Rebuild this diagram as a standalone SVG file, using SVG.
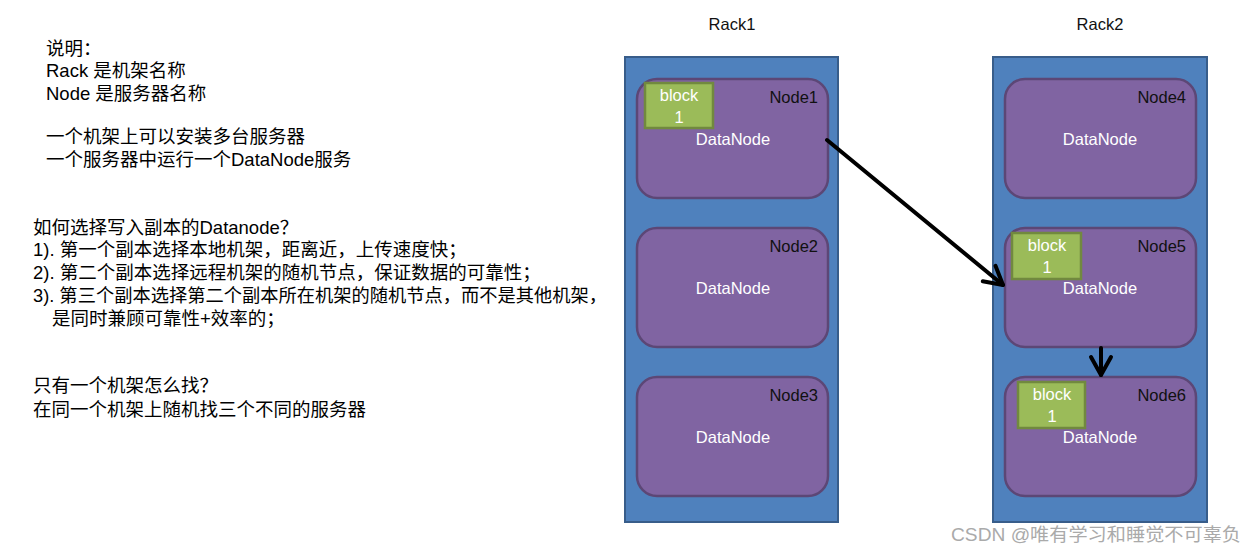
<svg xmlns="http://www.w3.org/2000/svg" width="1257" height="553" viewBox="0 0 1257 553">
<style>
.txt{font-family:"Liberation Sans","Noto Sans CJK SC",sans-serif;font-size:18.5px;fill:#000}
.rack{fill:#4F81BD;stroke:#385D8A;stroke-width:2}
.node{fill:#8064A2;stroke:#5C4776;stroke-width:2.5}
.block{fill:#9BBB59;stroke:#71893F;stroke-width:2.5}
.wt{font-family:"Liberation Sans",sans-serif;font-size:16.5px;fill:#fff;text-anchor:middle}
.nl{font-family:"Liberation Sans",sans-serif;font-size:16.5px;fill:#111;text-anchor:end}
.rl{font-family:"Liberation Sans",sans-serif;font-size:16.5px;fill:#111;text-anchor:middle}
.conn{stroke:#000;stroke-width:4;fill:none;stroke-linecap:round}
</style>
<defs>
<marker id="arr" markerUnits="userSpaceOnUse" viewBox="-22 -14 26 28" markerWidth="26" markerHeight="28" refX="0" refY="0" orient="auto">
<path d="M-18,-10 L0,0 L-18,10" fill="none" stroke="#000" stroke-width="4" stroke-linecap="round" stroke-linejoin="round"/>
</marker>
</defs>
<rect width="1257" height="553" fill="#fff"/>
<g id="notes" class="txt">
<text x="46" y="55">说明：</text>
<text x="46" y="77">Rack 是机架名称</text>
<text x="46" y="100">Node 是服务器名称</text>
<text x="46" y="143">一个机架上可以安装多台服务器</text>
<text x="46" y="166">一个服务器中运行一个DataNode服务</text>
<text x="33" y="234">如何选择写入副本的Datanode？</text>
<text x="33" y="256">1). 第一个副本选择本地机架，距离近，上传速度快；</text>
<text x="33" y="279">2). 第二个副本选择远程机架的随机节点，保证数据的可靠性；</text>
<text x="33" y="302" textLength="574" lengthAdjust="spacingAndGlyphs">3). 第三个副本选择第二个副本所在机架的随机节点，而不是其他机架，</text>
<text x="52" y="325">是同时兼顾可靠性+效率的；</text>
<text x="33" y="392">只有一个机架怎么找？</text>
<text x="33" y="416">在同一个机架上随机找三个不同的服务器</text>
</g>
<g id="rack1">
<text class="rl" x="732" y="30">Rack1</text>
<rect class="rack" x="625" y="57" width="213" height="465"/>
</g>
<g id="rack2">
<text class="rl" x="1100" y="30">Rack2</text>
<rect class="rack" x="993" y="57" width="214" height="465"/>
</g>
<g id="node1">
<rect class="node" x="637" y="79" width="191" height="119" rx="20"/>
<text class="nl" x="818" y="103">Node1</text>
<text class="wt" x="733" y="145">DataNode</text>
<rect class="block" x="645" y="83" width="68" height="45"/>
<text class="wt" x="679" y="101">block</text>
<text class="wt" x="679" y="123">1</text>
</g>
<g id="node2">
<rect class="node" x="637" y="228" width="191" height="119" rx="20"/>
<text class="nl" x="818" y="252">Node2</text>
<text class="wt" x="733" y="294">DataNode</text>
</g>
<g id="node3">
<rect class="node" x="637" y="377" width="191" height="119" rx="20"/>
<text class="nl" x="818" y="401">Node3</text>
<text class="wt" x="733" y="443">DataNode</text>
</g>
<g id="node4">
<rect class="node" x="1005" y="79" width="191" height="119" rx="20"/>
<text class="nl" x="1186" y="103">Node4</text>
<text class="wt" x="1100" y="145">DataNode</text>
</g>
<g id="node5">
<rect class="node" x="1005" y="228" width="191" height="119" rx="20"/>
<text class="nl" x="1186" y="252">Node5</text>
<text class="wt" x="1100" y="294">DataNode</text>
<rect class="block" x="1012" y="233" width="69" height="46"/>
<text class="wt" x="1047" y="251">block</text>
<text class="wt" x="1047" y="273">1</text>
</g>
<g id="node6">
<rect class="node" x="1005" y="377" width="191" height="119" rx="20"/>
<text class="nl" x="1186" y="401">Node6</text>
<text class="wt" x="1100" y="443">DataNode</text>
<rect class="block" x="1018" y="382" width="67" height="46"/>
<text class="wt" x="1052" y="400">block</text>
<text class="wt" x="1052" y="422">1</text>
</g>
<g id="connectors">
<path class="conn" d="M827,140 L1003,285" marker-end="url(#arr)"/>
<path class="conn" d="M1101,348 L1101,375" marker-end="url(#arr)"/>
</g>
<text x="951" y="541" font-family="Liberation Sans,Noto Sans CJK SC,sans-serif" font-size="18" fill="#aaaaaa" textLength="290" lengthAdjust="spacingAndGlyphs">CSDN @唯有学习和睡觉不可辜负</text>
</svg>
